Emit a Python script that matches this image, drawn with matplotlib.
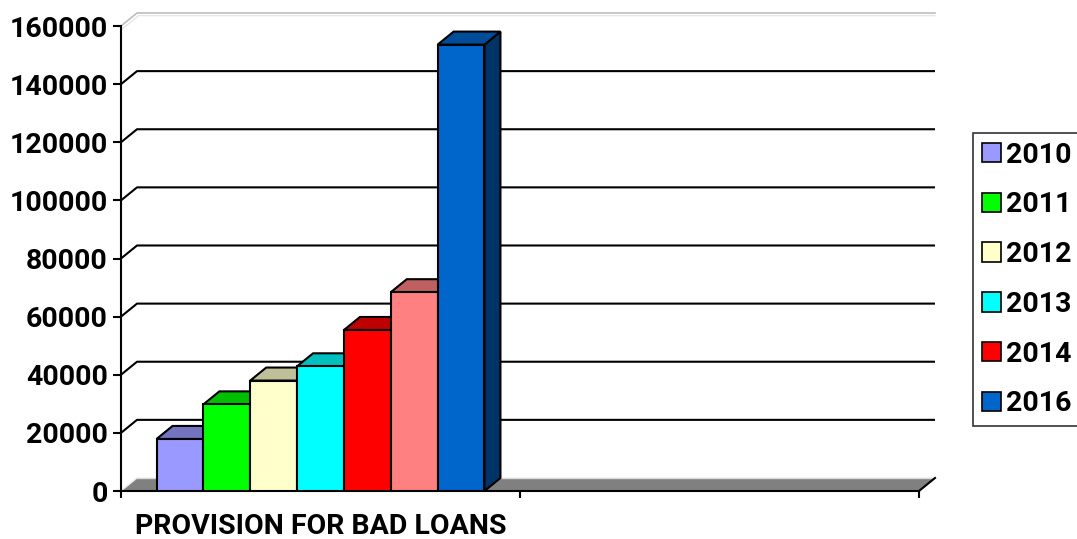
import matplotlib
matplotlib.use("Agg")
import matplotlib.pyplot as plt
from matplotlib.patches import Polygon, Patch
from matplotlib.colors import to_rgb

# data
years = ["2010", "2011", "2012", "2013", "2014", "2015", "2016"]
values = [17900, 29800, 38000, 42900, 55400, 68400, 153600]
colors = ["#9999FF", "#00FF00", "#FFFFCC", "#00FFFF", "#FF0000", "#FF8080", "#0066CC"]
legend_years = ["2010", "2011", "2012", "2013", "2014", "2016"]
category = "PROVISION FOR BAD LOANS"
yticks = list(range(0, 160001, 20000))

W, H = 1077, 539
FS = 20.5

plt.rcParams["font.family"] = ["Roboto", "DejaVu Sans"]
plt.rcParams["font.weight"] = "bold"


def shade(c, f):
    r, g, b = to_rgb(c)
    return (r * f, g * f, b * f)


fig = plt.figure(figsize=(W / 100, H / 100), dpi=100)
ax = fig.add_axes([121 / W, (H - 491) / H, (935 - 121) / W, (491 - 13) / H])

# depth offset of the fake 3d walls and bars
DX = 16 / 399
DY = 13 / 464 * 160000
ax.set_xlim(0, 2 + DX)
ax.set_ylim(0, 160000 + DY)

# floor
ax.add_patch(Polygon([(0, 0), (2, 0), (2 + DX, DY), (DX, DY)],
                     closed=True, facecolor="#808080", edgecolor="none", zorder=1))
ax.plot([DX, 2 + DX], [DY, DY], color="#d8d8d8", lw=1, zorder=1.2)
ax.plot([0, DX], [0, DY], color="#e8e8e8", lw=1, zorder=1.2)
ax.plot([2, 2 + DX], [0, DY], color="black", lw=1.5, zorder=1.2, clip_on=False)

# back wall gridlines
for v in yticks[1:-1]:
    ax.plot([0, DX, 2 + DX], [v, v + DY, v + DY], color="black", lw=1.5, zorder=1.5)
top = yticks[-1]
ax.plot([0, DX, 2 + DX], [top, top + DY, top + DY], color="#bdbdbd", lw=1.2,
        zorder=1.5, clip_on=False)
ax.plot([0.004, DX + 0.004, 2 + DX], [top - 900, top + DY - 900, top + DY - 900],
        color="#e6e6e6", lw=1.0, zorder=1.5, clip_on=False)

# bars
bw = 0.1174
xs = [0.5 + (i - 3) * bw for i in range(len(values))]
bars = ax.bar(xs, values, width=bw, color=colors, edgecolor="black", linewidth=1.5)
for i, (rect, v, c) in enumerate(zip(bars, values, colors)):
    x0 = rect.get_x()
    x1 = x0 + bw
    z = 3 + i * 0.1
    ax.add_patch(Polygon([(x1, 0), (x1 + DX, DY), (x1 + DX, v + DY), (x1, v)],
                         closed=True, facecolor=shade(c, 0.5), edgecolor="black",
                         lw=1.5, zorder=z))
    ax.add_patch(Polygon([(x0, v), (x1, v), (x1 + DX, v + DY), (x0 + DX, v + DY)],
                         closed=True, facecolor=shade(c, 0.75), edgecolor="black",
                         lw=1.5, zorder=z + 0.01))
    rect.set_zorder(z + 0.02)

# axes
for s in ["top", "right"]:
    ax.spines[s].set_visible(False)
ax.spines["left"].set_bounds(0, 160000)
ax.spines["bottom"].set_bounds(0, 2)
ax.spines["left"].set_linewidth(1.5)
ax.spines["bottom"].set_linewidth(1.5)

ax.set_yticks(yticks)
ax.set_yticklabels([str(v) for v in yticks])
ax.tick_params(axis="y", length=5.8, width=1.5, pad=3.6, labelsize=FS)

ax.set_xticks([0, 1, 2])
ax.set_xticklabels(["", "", ""])
ax.set_xticks([0.5, 1.5], [category, ""], minor=True)
ax.tick_params(axis="x", which="major", length=5, width=1.5)
ax.tick_params(axis="x", which="minor", length=0, pad=15.5, labelsize=FS)

# legend (2015 has no entry in the original)
handles = [Patch(facecolor=colors[years.index(y)], edgecolor="black", lw=1.2)
           for y in legend_years]
leg = fig.legend(handles, legend_years, loc="upper left",
                 bbox_to_anchor=(973 / W, 1 - 133 / H), borderaxespad=0,
                 fontsize=FS, frameon=True, fancybox=False, edgecolor="black",
                 handlelength=0.67, handleheight=0.67, handletextpad=0.2,
                 labelspacing=0.8, borderpad=0.3)
leg.get_frame().set_linewidth(1.2)

fig.savefig("out.png", dpi=100)
